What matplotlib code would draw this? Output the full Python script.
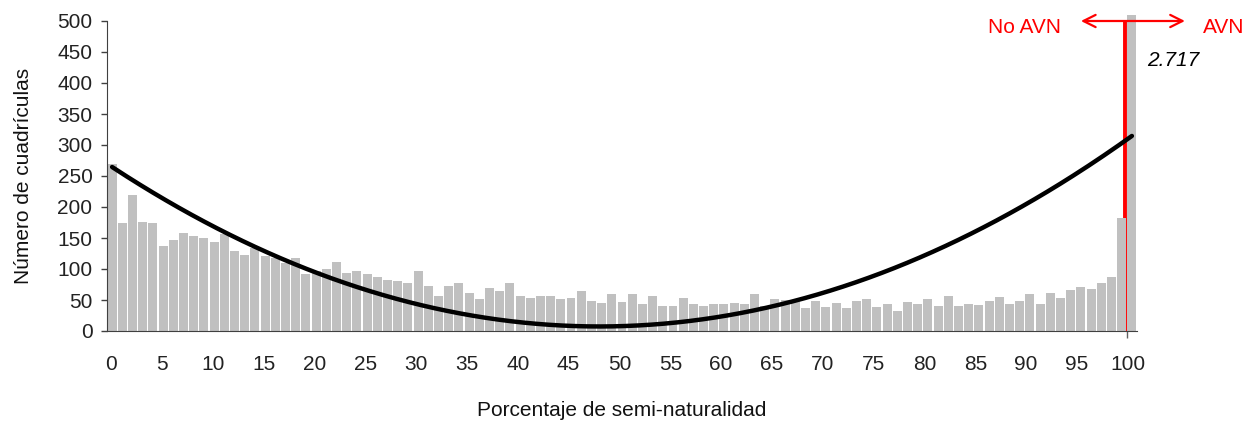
import numpy as np
import matplotlib
matplotlib.use("Agg")
import matplotlib.pyplot as plt

plt.rcParams['font.family'] = ['Liberation Sans', 'DejaVu Sans']

# Número de cuadrículas per porcentaje de semi-naturalidad (0..100)
counts = [269,174,219,176,174,137,147,158,154,150,144,156,129,123,134,121,117,110,118,92,
          97,100,112,93,96,92,87,83,80,78,96,72,56,72,78,62,51,70,64,77,
          57,54,56,57,51,54,64,48,45,59,46,59,43,56,40,41,53,43,40,43,
          43,45,43,60,40,52,50,50,37,48,38,45,37,48,51,38,43,33,46,43,
          51,40,56,40,43,42,48,55,43,48,60,43,61,53,66,71,68,77,87,182,2717]
pct = list(range(len(counts)))
tick_vals = list(range(0, 101, 5))
y_ticks = list(range(0, 501, 50))
threshold = 100
label_last = "2.717"
xlabel = "Porcentaje de semi-naturalidad"
ylabel = "Número de cuadrículas"

x = np.array(pct, dtype=float)
y = np.array(counts, dtype=float)

FS = 15

fig = plt.figure(figsize=(12.58, 4.21), dpi=100)
ax = fig.add_axes([107/1258, (421-331)/421, 1030/1258, (331-14.8)/421])

ymax = 510
ax.bar(x, np.minimum(y, ymax), width=0.88, color='#C0C0C0', zorder=2, clip_on=True)

# polynomial (order 2) trend line fitted to all data
coef = np.polyfit(x, y, 2)
xs = np.linspace(x.min(), x.max(), 400)
ax.plot(xs, np.polyval(coef, xs), color='black', lw=3.2, zorder=4, solid_capstyle='round')

# threshold line (AVN)
xpos = lambda v: v * 0.997 - 0.1
ax.plot([xpos(threshold) - 0.25] * 2, [0, 500], color='#FF0000', lw=2.8, zorder=1,
        solid_capstyle='butt')

ax.annotate('', xy=(95.0, 500), xytext=(105.2, 500),
            arrowprops=dict(arrowstyle='<->', color='#FF0000', lw=1.6,
                            mutation_scale=22, shrinkA=0, shrinkB=0),
            annotation_clip=False, zorder=5)
ax.text(93.0, 490, 'No AVN', color='#FF0000', fontsize=FS, ha='right', va='center',
        clip_on=False)
ax.text(107.0, 490, 'AVN', color='#FF0000', fontsize=FS, ha='left', va='center',
        clip_on=False)
ax.text(101.5, 437, label_last, color='black', fontsize=FS, style='italic',
        ha='left', va='center', clip_on=False)

ax.set_xlim(-0.5, 100.5)
ax.set_ylim(0, ymax)

for s in ['top', 'right']:
    ax.spines[s].set_visible(False)
ax.spines['left'].set_bounds(0, 500)
ax.spines['left'].set_color('#404040')
ax.spines['bottom'].set_color('#404040')
ax.spines['left'].set_zorder(6)
ax.spines['bottom'].set_zorder(6)

ax.set_xticks([xpos(v) for v in tick_vals])
ax.set_xticklabels([str(v) for v in tick_vals])
ax.set_xticks([xpos(threshold) - 0.05], minor=True)
ax.tick_params(axis='x', which='major', length=0, pad=17, labelsize=FS, labelcolor='#222222')
ax.tick_params(axis='x', which='minor', length=5, width=1, color='#606060')
ax.set_yticks(y_ticks)
ax.tick_params(axis='y', length=4.5, width=1, color='#404040', pad=6, labelsize=FS,
               labelcolor='#222222')

ax.set_xlabel(xlabel, fontsize=FS, color='#111111', labelpad=20)
ax.set_ylabel(ylabel, fontsize=FS, color='#111111')
ax.yaxis.set_label_coords(-0.072, 0.49)

fig.savefig('out.png', dpi=100)
